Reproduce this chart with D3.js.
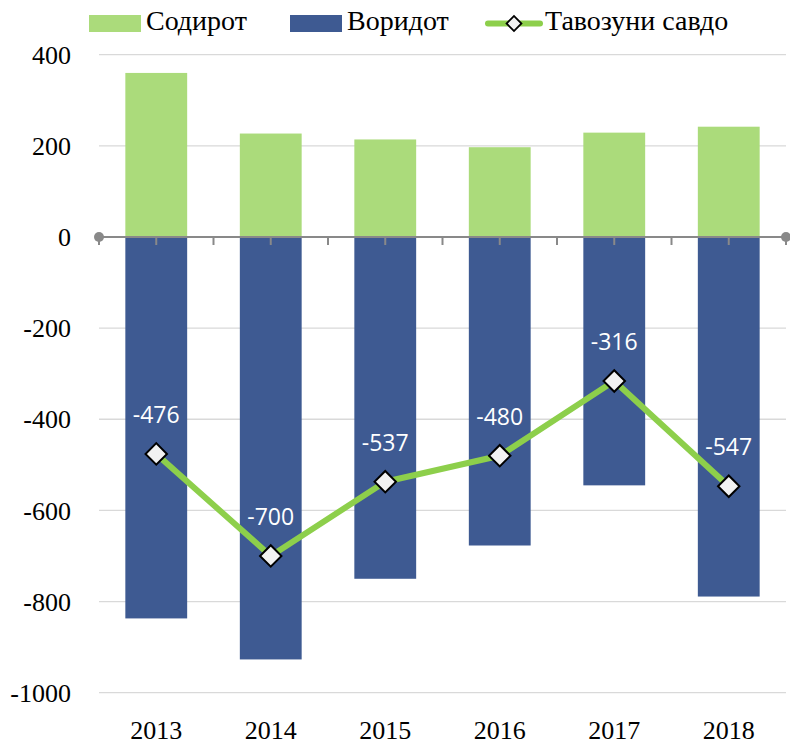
<!DOCTYPE html>
<html><head><meta charset="utf-8">
<script src="https://cdn.jsdelivr.net/npm/d3@7"></script>
<style>html,body{margin:0;padding:0;background:#fff;}svg{display:block;}</style>
</head><body>
<svg id="chart" width="790" height="744"></svg>
<script>
const years = ["2013","2014","2015","2016","2017","2018"];
const exportsVals = [360, 227, 214, 197, 229, 242];
const importsVals = [-837, -927, -750, -677, -545, -789];
const balanceVals = [-476, -700, -537, -480, -316, -547];
const yTicks = [400, 200, 0, -200, -400, -600, -800, -1000];
const seriesNames = ["Содирот", "Воридот", "Тавозуни савдо"];

(function () {
const svg = d3.select("#chart");
const pLeft = 99, pRight = 786, pTop = 54.7, pBottom = 692.7;
const x = d3.scaleBand().domain(years).range([pLeft, pRight]).paddingInner(0.46).paddingOuter(0.23);
const y = d3.scaleLinear().domain([-1000, 400]).range([pBottom, pTop]);
const serif = "'Liberation Serif', 'DejaVu Serif', serif";
const sans = "'Open Sans', 'Noto Sans', sans-serif";

// gridlines
svg.append("g").selectAll("line").data(yTicks.filter(d => d !== 0)).join("line")
  .attr("x1", pLeft).attr("x2", pRight)
  .attr("y1", d => y(d)).attr("y2", d => y(d))
  .attr("stroke", "#d9d9d9").attr("stroke-width", 1.3);

// y tick labels
const yAxis = d3.axisLeft(y).tickValues(yTicks).tickSize(0).tickPadding(0).tickFormat(d => String(d));
const yg = svg.append("g").attr("transform", `translate(${pLeft - 28},0)`).call(yAxis);
yg.select(".domain").remove();
yg.selectAll("text").attr("font-family", serif).attr("font-size", 26).attr("fill", "#000").attr("dy", "0.33em");

// bars
const bw = x.bandwidth();
svg.append("g").selectAll("rect").data(years).join("rect")
  .attr("x", d => x(d)).attr("width", bw)
  .attr("y", (d, i) => y(exportsVals[i])).attr("height", (d, i) => y(0) - y(exportsVals[i]))
  .attr("fill", "#abdb7b");
svg.append("g").selectAll("rect").data(years).join("rect")
  .attr("x", d => x(d)).attr("width", bw)
  .attr("y", y(0)).attr("height", (d, i) => y(importsVals[i]) - y(0))
  .attr("fill", "#3e5a92");

// zero axis
const step = x.step();
const tickXs = d3.range(0, years.length * 2 + 1).map(k => pLeft + k * step / 2);
svg.append("g").selectAll("line").data(tickXs).join("line")
  .attr("x1", d => d).attr("x2", d => d).attr("y1", y(0)).attr("y2", y(0) + 8)
  .attr("stroke", "#898989").attr("stroke-width", 2);
svg.append("line").attr("x1", pLeft).attr("x2", pRight).attr("y1", y(0)).attr("y2", y(0))
  .attr("stroke", "#898989").attr("stroke-width", 2.2);
svg.append("g").selectAll("circle").data([pLeft, pRight]).join("circle")
  .attr("cx", d => d).attr("cy", y(0)).attr("r", 5).attr("fill", "#898989");

// x labels
const xAxis = d3.axisBottom(x).tickSize(0).tickPadding(0);
const xg = svg.append("g").attr("transform", `translate(0,${pBottom + 46})`).call(xAxis);
xg.select(".domain").remove();
xg.selectAll("text").attr("font-family", serif).attr("font-size", 26).attr("fill", "#000").attr("dy", "0");

// balance line
const cx = d => x(d) + bw / 2;
const line = d3.line().x((d, i) => cx(years[i])).y(d => y(d));
svg.append("path").datum(balanceVals).attr("d", line)
  .attr("fill", "none").attr("stroke", "#8dcf4b").attr("stroke-width", 6).attr("stroke-linejoin", "round");
const diamond = d3.symbol().type(d3.symbolSquare).size(230);
svg.append("g").selectAll("path").data(balanceVals).join("path")
  .attr("d", diamond())
  .attr("transform", (d, i) => `translate(${cx(years[i])},${y(d)}) rotate(45)`)
  .attr("fill", "#f2f2f2").attr("stroke", "#000").attr("stroke-width", 2);
svg.append("g").selectAll("text").data(balanceVals).join("text")
  .attr("x", (d, i) => cx(years[i])).attr("y", d => y(d) - 31)
  .attr("text-anchor", "middle").attr("font-family", sans).attr("font-size", 23)
  .attr("fill", "#fff").text(d => String(d));

// legend
const lg = svg.append("g");
lg.append("rect").attr("x", 89).attr("y", 15).attr("width", 52).attr("height", 17).attr("fill", "#abdb7b");
lg.append("text").attr("x", 146).attr("y", 30).text(seriesNames[0]);
lg.append("rect").attr("x", 290).attr("y", 15).attr("width", 52).attr("height", 17).attr("fill", "#3e5a92");
lg.append("text").attr("x", 347).attr("y", 30).text(seriesNames[1]);
lg.append("line").attr("x1", 488).attr("x2", 540).attr("y1", 23.5).attr("y2", 23.5)
  .attr("stroke", "#8dcf4b").attr("stroke-width", 6).attr("stroke-linecap", "round");
lg.append("path").attr("d", d3.symbol().type(d3.symbolSquare).size(110)())
  .attr("transform", "translate(514,23.5) rotate(45)")
  .attr("fill", "#f2f2f2").attr("stroke", "#000").attr("stroke-width", 1.8);
lg.append("text").attr("x", 545).attr("y", 30).text(seriesNames[2]);
lg.selectAll("text").attr("font-family", serif).attr("font-size", 28).attr("fill", "#000");
})();
</script>
</body></html>
